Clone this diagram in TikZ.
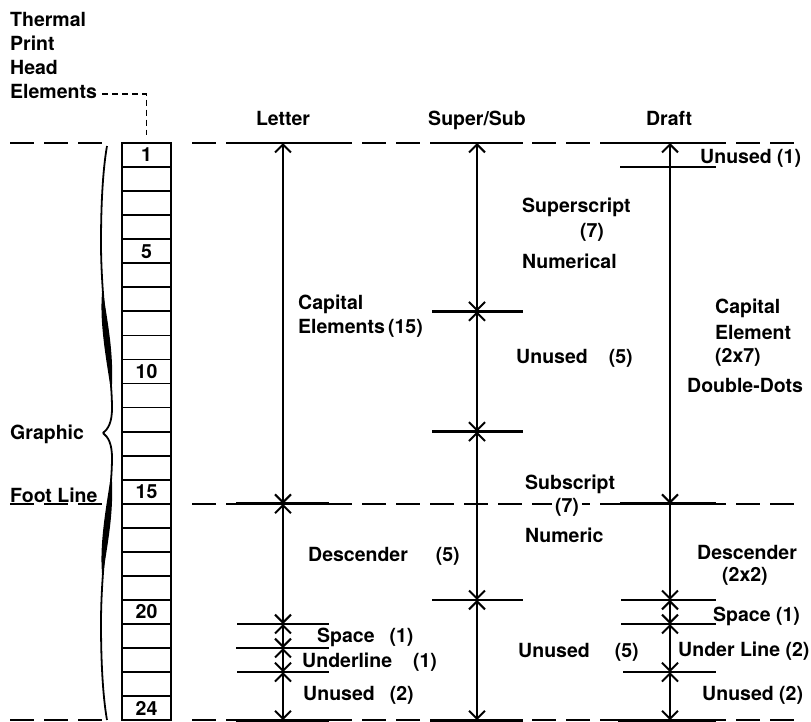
\documentclass[tikz,border=0pt]{standalone}
\usepackage{fontspec}
\setmainfont{TeX Gyre Heros}
\usetikzlibrary{arrows.meta}
\tikzset{
	lbl/.style={font=\fontsize{19.5}{23}\selectfont\bfseries, inner sep=0pt},
	elbox/.style={draw, line width=1.8pt, minimum width=49pt, minimum height=24.05pt, inner sep=0pt},
	barb/.tip={Straight Barb[length=8pt,width=16pt,line width=2pt]},
	dim/.style={barb-barb, line width=2.2pt},
	half/.style={-barb, line width=2.2pt},
	tick/.style={line width=2.6pt},
	level/.style={line width=2.2pt, dash pattern=on 24pt off 10pt},
	leader/.style={line width=1.8pt, dash pattern=on 6pt off 4pt}
}

\begin{document}
\begin{tikzpicture}[x=1pt,y=-1pt]
	\useasboundingbox (0,0) rectangle (811,721);
	% print head elements
	\foreach \i in {1,...,24}
		\node[elbox] (b\i) at (146.5,{143+24.05*(\i-0.5)}) {};
	\foreach \i in {1,5,10,15,20,24}
		\node[lbl] (n\i) at (b\i) {\i};
	\node[lbl, anchor=base west] (thermal) at (10,26) {Thermal};
	\node[lbl, anchor=base west] (print) at (10,50) {Print};
	\node[lbl, anchor=base west] (head) at (10,74) {Head};
	\node[lbl, anchor=base west] (elem) at (10,98) {Elements};
	\draw[leader] ([xshift=5pt,yshift=-3pt]elem.east) -| ([yshift=7pt]b1.north);
	% brace
	\foreach \s in {1,-1} {
		\begin{scope}[shift={(0,433)}, yscale=\s]
			\draw[line width=1.8pt] (103,0) .. controls (108,-4) and (112,-10) .. (112,-25)
				.. controls (112,-60) and (101,-130) .. (101,-190)
				.. controls (101,-240) and (104,-270) .. (107,-287);
			\fill (111.5,-40) .. controls (114.5,-80) and (107,-112) .. (102.5,-145)
				.. controls (99,-115) and (105,-80) .. (111.5,-40) -- cycle;
		\end{scope}
	}
	\node[lbl, anchor=base west] (graphic) at (10,439) {Graphic};
	\node[lbl, anchor=base west] (foot) at (10,502) {Foot Line};
	% top, foot and bottom lines
	\foreach \y in {143,503.8,719.8} {
		\draw[level] (10,\y) -- (105,\y);
		\draw[level] (192,\y) -- (800,\y);
	}
	% columns
	\foreach \c/\x in {let/283,sup/477,dra/670}
		\foreach \k in {0,1,7,12,15,19,20,21,22,24}
			\coordinate (\c\k) at (\x,{143+24.05*\k});
	\foreach \p/\l in {let0/-47,let15/-47,let20/-46,let21/-47,let22/-46,let24/-47,
		sup0/-47,sup7/-45,sup12/-45,sup19/-45,sup24/-47,
		dra0/-52,dra1/-50,dra15/-50,dra19/-49,dra20/-49,dra22/-47,dra24/-52}
		\draw[tick] ([xshift=\l pt]\p) -- ([xshift=46pt]\p);
	\foreach \a/\b in {let0/let15,let15/let20,let20/let21,let21/let22,let22/let24,
		sup0/sup7,sup7/sup12,sup12/sup19,sup19/sup24,
		dra0/dra15,dra19/dra20,dra20/dra22,dra22/dra24}
		\draw[dim] (\a) -- (\b);
	\draw[half] (dra15) -- (dra19);
	% headings
	\node[lbl, anchor=base] (hlet) at (283,125) {Letter};
	\node[lbl, anchor=base] (hsup) at (477,125) {Super/Sub};
	\node[lbl, anchor=base] (hdra) at (669,125) {Draft};
	% letter
	\node[lbl, anchor=base west] (capl) at (298,309) {Capital};
	\node[lbl, anchor=base west] (capl2) at (298,333) {Elements\,(15)};
	\node[lbl, anchor=base west] (desl) at (308,561) {Descender\hspace{28pt}(5)};
	\node[lbl, anchor=base west] (spl) at (317,642) {Space\hspace{15pt}(1)};
	\node[lbl, anchor=base west] (unl) at (302,667) {Underline\hspace{21pt}(1)};
	\node[lbl, anchor=base west] (usl) at (303,700) {Unused\hspace{15pt}(2)};
	% super/sub
	\node[lbl, anchor=base west] (sups) at (522,212) {Superscript};
	\node[lbl, anchor=base] (sups2) at (592,237) {(7)};
	\node[lbl, anchor=base west] (sups3) at (522,268) {Numerical};
	\node[lbl, anchor=base west] (uss1) at (516,363) {Unused\hspace{21pt}(5)};
	\node[lbl, anchor=base west] (subs) at (525,489) {Subscript};
	\node[lbl, fill=white, inner xsep=3pt] (subs2) at (567,507) {(7)};
	\node[lbl, anchor=base west] (subs3) at (525,542) {Numeric};
	\node[lbl, anchor=base west] (uss2) at (518,657) {Unused\hspace{25pt}(5)};
	% draft
	\node[lbl, anchor=base west] (usd1) at (700,163) {Unused (1)};
	\node[lbl, anchor=base west] (capd) at (715,313) {Capital};
	\node[lbl, anchor=base west] (capd2) at (715,339) {Element};
	\node[lbl, anchor=base west] (capd3) at (715,362) {(2x7)};
	\node[lbl, anchor=base west] (capd4) at (687,392) {Double-Dots};
	\node[lbl, anchor=base west] (desd) at (697,559) {Descender};
	\node[lbl, anchor=base west] (desd2) at (722,581) {(2x2)};
	\node[lbl, anchor=base west] (spd) at (713,621) {Space (1)};
	\node[lbl, anchor=base west] (und) at (678,656) {Under Line (2)};
	\node[lbl, anchor=base west] (usd2) at (702,700) {Unused (2)};
\end{tikzpicture}
\end{document}
